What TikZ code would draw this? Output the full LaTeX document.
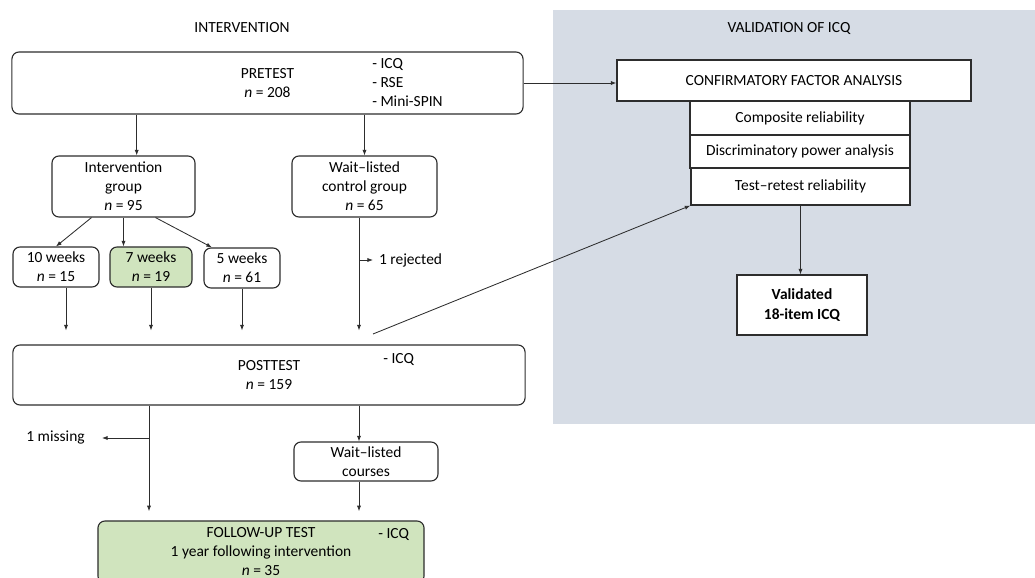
\documentclass[tikz,border=0pt]{standalone}
\usepackage{fontspec}
\setmainfont{Carlito}
\usetikzlibrary{arrows.meta}

\definecolor{panelgray}{RGB}{214,220,229}
\definecolor{weekgreen}{RGB}{208,228,190}
\definecolor{boxline}{RGB}{45,45,45}

\tikzset{
    rbox/.style={draw=boxline, line width=0.8pt, rounded corners=5pt, align=center, inner sep=2pt},
    sbox/.style={draw=boxline, line width=0.8pt, fill=white, align=center, inner sep=2pt},
    arr/.style={-{Latex[length=4pt,width=3pt]}, line width=0.6pt, draw=boxline},
    note/.style={align=left, inner sep=0pt, anchor=west}
}

\begin{document}
\begin{tikzpicture}[x=0.025cm, y=-0.025cm, font=\fontsize{11}{13.5}\selectfont]
    \useasboundingbox (0,0) rectangle (1035,578);
    \clip (0,0) rectangle (1035,578);
    % validation panel
    \fill[panelgray] (553,10) rectangle (1035,424);
    \node (valtitle) at (789,29) {VALIDATION OF ICQ};
    \node (inttitle) at (242,28) {INTERVENTION};

    % intervention side
    \node[rbox, minimum width=12.775cm, minimum height=1.55cm] (pretest) at (267.5,83) {PRETEST\\\textit{n} = 208};
    \node[note] (prelist) at (372,83) {- ICQ\\- RSE\\- Mini-SPIN};
    \node[rbox, minimum width=3.575cm, minimum height=1.525cm] (intgrp) at (123.5,186.5) {Intervention\\group\\\textit{n} = 95};
    \node[rbox, minimum width=3.625cm, minimum height=1.525cm] (waitgrp) at (364.5,186.5) {Wait--listed\\control group\\\textit{n} = 65};
    \node[rbox, minimum width=2.15cm, minimum height=1cm] (wk10) at (56,267) {10 weeks\\\textit{n} = 15};
    \node[rbox, fill=weekgreen, minimum width=2.05cm, minimum height=1cm] (wk7) at (151,267) {7 weeks\\\textit{n} = 19};
    \node[rbox, minimum width=1.9cm, minimum height=1cm] (wk5) at (242,268) {5 weeks\\\textit{n} = 61};
    \node[rbox, minimum width=12.8cm, minimum height=1.5cm] (posttest) at (269,375) {POSTTEST\\\textit{n} = 159};
    \node[note] (postlist) at (383,360) {- ICQ};
    \node[rbox, minimum width=3.6cm, minimum height=0.975cm] (wlcourses) at (366,461.5) {Wait--listed\\courses};
    \node[rbox, fill=weekgreen, minimum width=8.15cm, minimum height=1.55cm] (followup) at (261,552) {FOLLOW-UP TEST\\1 year following intervention\\\textit{n} = 35};
    \node[note] (followlist) at (378,535) {- ICQ};

    % validation side
    \node[sbox, minimum width=8.85cm, minimum height=1.025cm] (cfa) at (794,80.5) {CONFIRMATORY FACTOR ANALYSIS};
    \node[sbox, minimum width=5.5cm, minimum height=0.85cm] (comp) at (800,118) {Composite reliability};
    \node[sbox, minimum width=5.5cm, minimum height=0.825cm] (disc) at (800,151.5) {Discriminatory power analysis};
    \node[sbox, minimum width=5.475cm, minimum height=0.925cm] (retest) at (800.5,186.5) {Test--retest reliability};
    \node[sbox, font=\fontsize{11}{14}\selectfont\bfseries, minimum width=3.25cm, minimum height=1.5cm] (valid) at (802,305) {Validated\\18-item ICQ};

    % helper points
    \coordinate (abovepost) at ([yshift=0.35cm]posttest.north);
    \coordinate (abovefollow) at ([yshift=0.23cm]followup.north);
    \coordinate (diagstart) at (373,334);
    \coordinate (rejectpt) at (359,260);
    \coordinate (missingpt) at (149,438);

    % connectors
    \draw[arr] (pretest.east) -- (cfa.west |- pretest.east);
    \draw[arr] ([xshift=0.33cm]intgrp.north |- pretest.south) -- ([xshift=0.33cm]intgrp.north);
    \draw[arr] (waitgrp.north |- pretest.south) -- (waitgrp.north);
    \draw[arr] ([xshift=-0.8cm]intgrp.south) -- (wk10.north);
    \draw[arr] (intgrp.south) -- (intgrp.south |- wk7.north);
    \draw[arr] ([xshift=0.8cm]intgrp.south) -- ([xshift=-0.75cm]wk5.north);
    \draw[arr] ([xshift=0.25cm]wk10.south) -- ([xshift=0.25cm]wk10.south |- abovepost);
    \draw[arr] (wk7.south) -- (wk7.south |- abovepost);
    \draw[arr] (wk5.south) -- (wk5.south |- abovepost);
    \draw[arr] (rejectpt |- waitgrp.south) -- (rejectpt |- abovepost);
    \draw[arr] (rejectpt) -- ++(14,0) node[right, inner sep=2pt, xshift=2pt] (rejected) {1 rejected};
    \draw[arr] (diagstart) -- (retest.south west);
    \draw[arr] (retest.south) -- (retest.south |- valid.north);
    \draw[arr] (missingpt |- posttest.south) -- (missingpt |- abovefollow);
    \draw[arr] (missingpt) -- ++(-47,0) node[left, inner sep=2pt, xshift=-10pt] (missing) {1 missing};
    \draw[arr] (rejectpt |- posttest.south) -- (rejectpt |- wlcourses.north);
    \draw[arr] (rejectpt |- wlcourses.south) -- (rejectpt |- abovefollow);
\end{tikzpicture}
\end{document}
